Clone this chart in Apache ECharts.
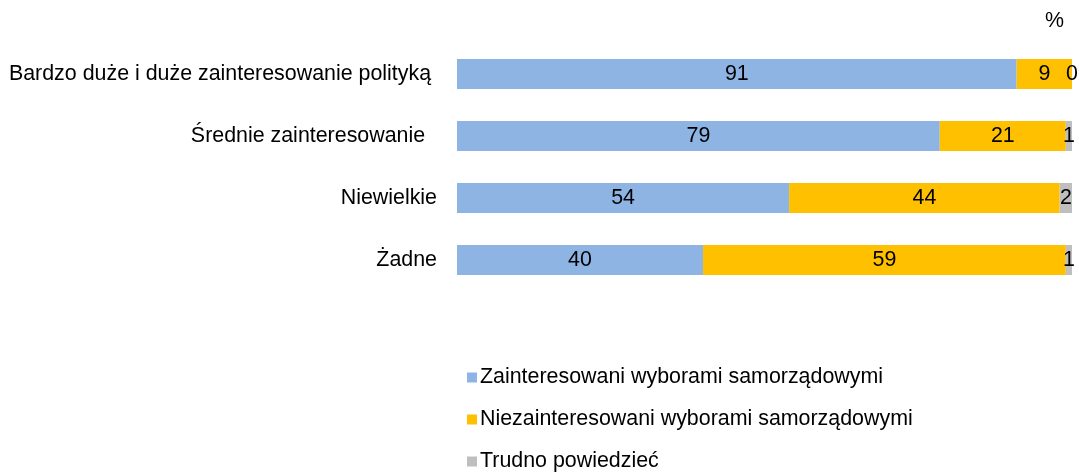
<!DOCTYPE html>
<html>
<head>
<meta charset="utf-8">
<script src="https://cdn.jsdelivr.net/npm/echarts@6/dist/echarts.min.js"></script>
<style>html,body{margin:0;padding:0;background:#fff}#c{width:1079px;height:473px}</style>
</head>
<body>
<div id="c"></div>
<script>
var categories = ['Bardzo duże i duże zainteresowanie polityką ', 'Średnie zainteresowanie  ', 'Niewielkie', 'Żadne'];
var seriesNames = ['Zainteresowani wyborami samorządowymi', 'Niezainteresowani wyborami samorządowymi', 'Trudno powiedzieć'];
var interested = [91, 78.5, 54, 40];
var notInterested = [9, 20.5, 44, 59];
var hardToSay = [0, 1, 2, 1];
var colors = ['#8EB4E3', '#FFC000', '#BFBFBF'];

var FONT = 'Liberation Sans, Arial, sans-serif';
var FS = 21.4;
var chart = echarts.init(document.getElementById('c'), null, {renderer: 'canvas'});
function mk(name, data, color) {
  return {
    name: name, type: 'bar', stack: 'all', data: data, barWidth: 30,
    itemStyle: {color: color},
    label: {show: true, position: 'inside', color: '#000', fontFamily: FONT, fontSize: FS,
      formatter: function (p) { return String(Math.round(p.value)); }},
    emphasis: {disabled: true}
  };
}
chart.setOption({
  animation: false,
  textStyle: {fontFamily: FONT},
  graphic: [{type: 'text', right: 15, top: 11, style: {text: '%', fontSize: FS, fontFamily: FONT, fill: '#000'}}],
  grid: {left: 457, right: 7, top: 43, height: 248},
  xAxis: {type: 'value', min: 0, max: 100, show: false},
  yAxis: {type: 'category', data: categories, inverse: true,
    axisLine: {show: false}, axisTick: {show: false},
    axisLabel: {color: '#000', fontSize: FS, fontFamily: FONT, margin: 20}},
  legend: {orient: 'vertical', left: 462, top: 362, height: 160, itemGap: 21, itemWidth: 10, itemHeight: 10,
    icon: 'rect', textStyle: {color: '#000', fontSize: FS, fontFamily: FONT, padding: [0,0,0,-2]},
    data: seriesNames},
  series: [mk(seriesNames[0], interested, colors[0]), mk(seriesNames[1], notInterested, colors[1]), mk(seriesNames[2], hardToSay, colors[2])]
});
</script>
</body>
</html>
